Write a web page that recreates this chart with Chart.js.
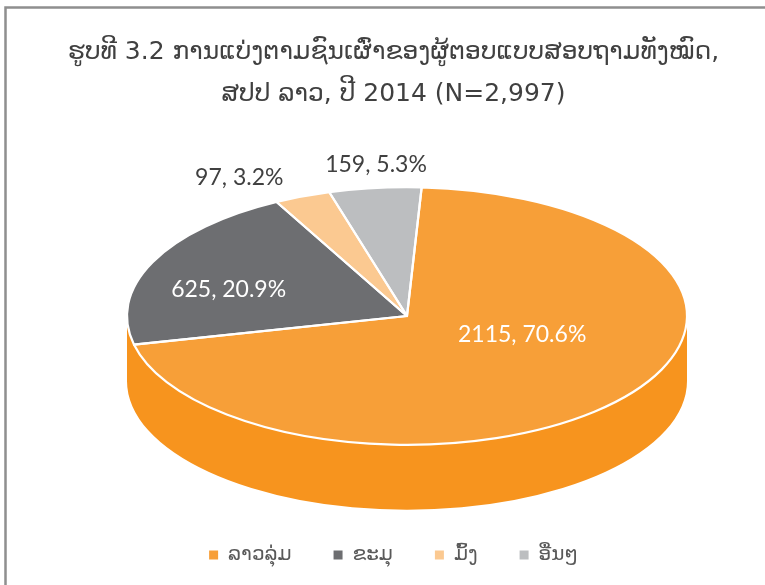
<!DOCTYPE html>
<html>
<head>
<meta charset="utf-8">
<script src="https://cdn.jsdelivr.net/npm/chart.js@4.4.1/dist/chart.umd.min.js"></script>
<style>
  html, body { margin: 0; padding: 0; background: #fff; }
  canvas { display: block; }
</style>
</head>
<body>
<canvas id="pie-chart" width="765" height="585"></canvas>
<script>
// data
const categories = ["ລາວລຸ່ມ", "ຂະມຸ", "ມົ້ງ", "ອື່ນໆ"];
const counts = [2115, 625, 97, 159];
const percents = [70.6, 20.9, 3.2, 5.3];
const titleLines = ["ຮູບທີ 3.2 ການແບ່ງຕາມຊົນເຜົ່າຂອງຜູ້ຕອບແບບສອບຖາມທັງໝົດ,", "ສປປ ລາວ, ປີ 2014 (N=2,997)"];

const topColors = ["#F79F38", "#6D6E71", "#FBC991", "#BCBEC0"];
const sideColors = ["#F7941E", "#58595B", "#F9B870", "#A7A9AC"];
const labelColors = ["#ffffff", "#ffffff", "#404040", "#404040"];
// label placement: fraction of radius along the mid angle, then a nudge in px
const labelPlace = [[0.5, 8, -23], [0.65, -13, 9], [1.25, -37, 11], [1.22, 8, 5]];

// where the tilted pie sits on the page
const pieX = 407, pieY = 316, tilt = 0.46, depth = 65;
// perspective fudge: slice edges this close to the rim's ends don't split the wall
const wallSnap = 15 * Math.PI / 180;

function toScreen(arc, frac, t) {
  const r = arc.outerRadius * frac;
  return { x: pieX + r * Math.cos(t), y: pieY + tilt * r * Math.sin(t) };
}

function snap(a) {
  if (a > Math.PI - wallSnap) return Math.PI;
  if (a < wallSnap) return 0;
  return a;
}

const frame = {
  id: "frame",
  beforeDraw(chart) {
    const ctx = chart.ctx;
    ctx.save();
    ctx.strokeStyle = "#8f8f8f";
    ctx.lineWidth = 2.5;
    ctx.beginPath();
    ctx.moveTo(5.5, 585);
    ctx.lineTo(5.5, 7.5);
    ctx.lineTo(765, 7.5);
    ctx.stroke();
    ctx.restore();
  }
};

const pie3d = {
  id: "pie3d",
  beforeDatasetsDraw(chart) {
    const ctx = chart.ctx;
    const arcs = chart.getDatasetMeta(0).data;
    const r = arcs[0].outerRadius;
    // side walls, only the front half can be seen
    ctx.save();
    arcs.forEach((a, i) => {
      const s = snap(Math.max(a.startAngle, 0));
      const e = snap(Math.min(a.endAngle, Math.PI));
      if (e <= s) return;
      ctx.beginPath();
      ctx.ellipse(pieX, pieY, r, r * tilt, 0, s, e);
      ctx.ellipse(pieX, pieY + depth, r, r * tilt, 0, e, s, true);
      ctx.closePath();
      ctx.fillStyle = sideColors[i];
      ctx.fill();
    });
    ctx.restore();
    // squash the top face
    const cx = arcs[0].x, cy = arcs[0].y;
    ctx.save();
    ctx.translate(pieX, pieY);
    ctx.scale(1, tilt);
    ctx.translate(-cx, -cy);
  },
  afterDatasetsDraw(chart) {
    const ctx = chart.ctx;
    ctx.restore();
    const arcs = chart.getDatasetMeta(0).data;
    const r = arcs[0].outerRadius;
    // white outlines drawn flat so they keep one width
    ctx.save();
    ctx.strokeStyle = "#ffffff";
    ctx.lineWidth = 2.2;
    ctx.lineJoin = "round";
    arcs.forEach(a => {
      const p = toScreen(a, 1, a.startAngle);
      ctx.beginPath();
      ctx.moveTo(pieX, pieY);
      ctx.lineTo(p.x, p.y);
      ctx.ellipse(pieX, pieY, r, r * tilt, 0, a.startAngle, a.endAngle);
      ctx.closePath();
      ctx.stroke();
    });
    // data labels
    ctx.font = "23px Lato";
    ctx.textAlign = "center";
    ctx.textBaseline = "middle";
    arcs.forEach((a, i) => {
      const mid = (a.startAngle + a.endAngle) / 2;
      const pl = labelPlace[i];
      const p = toScreen(a, pl[0], mid);
      ctx.fillStyle = labelColors[i];
      ctx.fillText(counts[i] + ", " + percents[i].toFixed(1) + "%", p.x + pl[1], p.y + pl[2]);
    });
    ctx.restore();
  }
};

new Chart(document.getElementById("pie-chart"), {
  type: "pie",
  data: {
    labels: categories,
    datasets: [{
      data: counts,
      backgroundColor: topColors,
      borderWidth: 0,
      radius: 280,
      clip: false
    }]
  },
  options: {
    responsive: false,
    animation: false,
    devicePixelRatio: 1,
    rotation: 3,
    layout: { padding: { top: 0, bottom: 10, left: 22, right: 0 } },
    events: [],
    plugins: {
      tooltip: { enabled: false },
      title: {
        display: true,
        text: titleLines,
        color: "#404040",
        font: { family: "DejaVu Sans", size: 25, weight: "normal", lineHeight: 1.68 },
        padding: { top: 31, bottom: 10 }
      },
      legend: {
        display: true,
        position: "bottom",
        labels: {
          boxWidth: 9,
          boxHeight: 9,
          padding: 42,
          color: "#595959",
          font: { family: "DejaVu Sans", size: 20 }
        }
      }
    }
  },
  plugins: [frame, pie3d]
});
</script>
</body>
</html>
